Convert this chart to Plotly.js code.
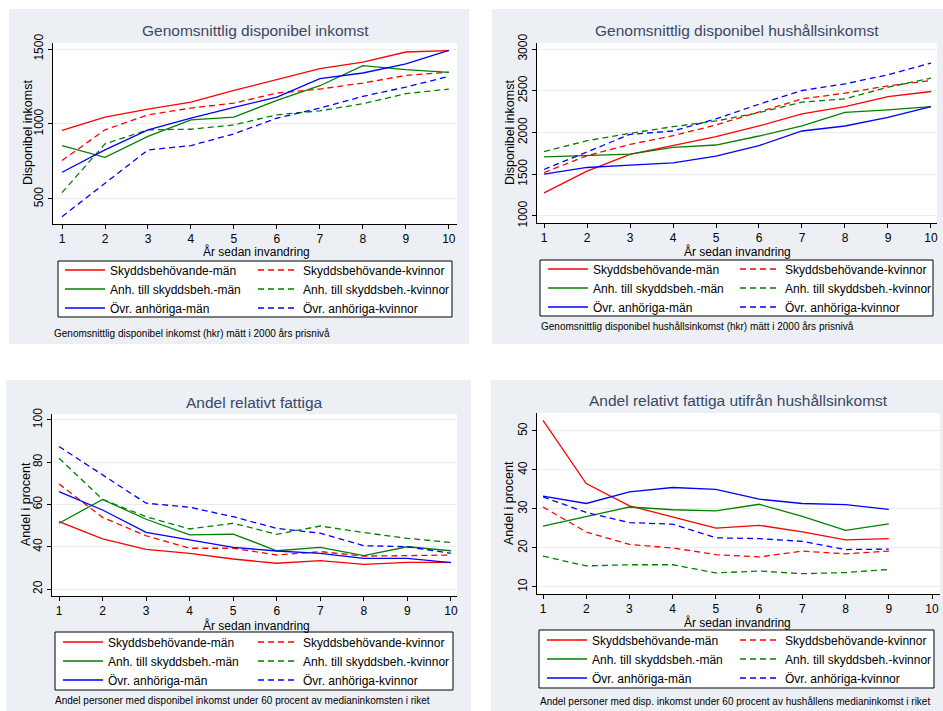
<!DOCTYPE html>
<html>
<head>
<meta charset="utf-8">
<script src="https://cdn.plot.ly/plotly-3.0.1.min.js"></script>
<style>html,body{margin:0;padding:0;background:#fff;}#chart{width:943px;height:711px;}</style>
</head>
<body>
<div id="chart"></div>
<script>
// ---------- data ----------
const years = [1, 2, 3, 4, 5, 6, 7, 8, 9, 10];
const years9 = [1, 2, 3, 4, 5, 6, 7, 8, 9];

const seriesNames = [
  "Skyddsbehövande-män", "Skyddsbehövande-kvinnor",
  "Anh. till skyddsbeh.-män", "Anh. till skyddsbeh.-kvinnor",
  "Övr. anhöriga-män", "Övr. anhöriga-kvinnor"
];

// Panel 1: Genomsnittlig disponibel inkomst
const inkSkyddMan = [957, 1046, 1099, 1146, 1224, 1295, 1369, 1413, 1480, 1489];
const inkSkyddKv  = [756, 961, 1061, 1106, 1139, 1206, 1233, 1273, 1324, 1346];
const inkAnhMan   = [856, 778, 917, 1028, 1046, 1157, 1255, 1389, 1362, 1344];
const inkAnhKv    = [542, 867, 961, 965, 994, 1061, 1088, 1135, 1202, 1233];
const inkOvrMan   = [678, 827, 961, 1039, 1110, 1179, 1302, 1340, 1400, 1491];
const inkOvrKv    = [382, 605, 827, 856, 934, 1039, 1106, 1184, 1246, 1317];

// Panel 2: Genomsnittlig disponibel hushållsinkomst
const hushSkyddMan = [1277, 1537, 1737, 1842, 1950, 2078, 2222, 2311, 2431, 2491];
const hushSkyddKv  = [1521, 1721, 1858, 1962, 2090, 2251, 2403, 2471, 2559, 2623];
const hushAnhMan   = [1709, 1729, 1741, 1822, 1850, 1958, 2078, 2242, 2271, 2311];
const hushAnhKv    = [1770, 1902, 1990, 2070, 2138, 2238, 2363, 2403, 2543, 2651];
const hushOvrMan   = [1501, 1581, 1609, 1637, 1717, 1842, 2018, 2078, 2182, 2311];
const hushOvrKv    = [1557, 1770, 1978, 2018, 2162, 2339, 2503, 2583, 2691, 2832];

// Panel 3: Andel relativt fattiga
const fatSkyddMan = [51.9, 43.7, 38.8, 36.9, 34.2, 32.2, 33.4, 31.7, 32.6, 32.6];
const fatSkyddKv  = [69.7, 53.9, 45.2, 39.3, 39.3, 36.1, 37.7, 35.6, 35.8, 36.1];
const fatAnhMan   = [51.1, 62.4, 53.0, 45.6, 46.0, 38.1, 39.7, 35.8, 40.0, 38.1];
const fatAnhKv    = [81.9, 62.4, 54.2, 48.4, 51.1, 45.9, 49.8, 46.7, 44.0, 42.0];
const fatOvrMan   = [66.1, 57.4, 46.8, 43.2, 39.7, 38.0, 36.9, 34.5, 34.5, 32.5];
const fatOvrKv    = [87.4, 74.0, 60.6, 58.7, 54.2, 48.7, 46.4, 40.5, 40.0, 36.9];

// Panel 4: Andel relativt fattiga utifrån hushållsinkomst
const hfSkyddMan = [52.7, 36.5, 30.8, 28.0, 25.1, 25.8, 24.1, 22.1, 22.4];
const hfSkyddKv  = [30.5, 24.1, 20.9, 20.0, 18.3, 17.7, 19.2, 18.5, 19.2];
const hfAnhMan   = [25.6, 28.0, 30.5, 29.8, 29.5, 31.2, 28.1, 24.5, 26.2];
const hfAnhKv    = [17.9, 15.4, 15.7, 15.7, 13.6, 14.1, 13.4, 13.7, 14.5];
const hfOvrMan   = [33.3, 31.4, 34.4, 35.5, 35.0, 32.5, 31.4, 31.1, 29.9];
const hfOvrKv    = [33.1, 29.1, 26.5, 26.1, 22.6, 22.4, 21.7, 19.6, 19.7];

const panelTitles = [
  "Genomsnittlig disponibel inkomst",
  "Genomsnittlig disponibel hushållsinkomst",
  "Andel relativt fattiga",
  "Andel relativt fattiga utifrån hushållsinkomst"
];
const yTitles = ["Disponibel inkomst", "Disponibel inkomst", "Andel i procent", "Andel i procent"];
const xTitle = "År sedan invandring";
const notes = [
  "Genomsnittlig disponibel inkomst (hkr) mätt i 2000 års prisnivå",
  "Genomsnittlig disponibel hushållsinkomst (hkr) mätt i 2000 års prisnivå",
  "Andel personer med disponibel inkomst under 60 procent av medianinkomsten i riket",
  "Andel personer med disp. inkomst under 60 procent av hushållens medianinkomst i riket"
];
const yTicks = [[500, 1000, 1500], [1000, 1500, 2000, 2500, 3000], [20, 40, 60, 80, 100], [10, 20, 30, 40, 50]];

// ---------- layout helpers ----------
const W = 943, H = 711;
const px = v => v / W;
const py = v => 1 - v / H;

const FONT = "Liberation Sans, Arial, Helvetica, sans-serif";
const colors = ["#ff0000", "#ff0000", "#008000", "#008000", "#0000ff", "#0000ff"];
const dashes = ["solid", "6px,4px", "solid", "6px,4px", "solid", "6px,4px"];

const panels = [
  {x: years,  data: [inkSkyddMan, inkSkyddKv, inkAnhMan, inkAnhKv, inkOvrMan, inkOvrKv],
   box: {l: 53, r: 457, t: 43, b: 224}, xr: [0.79, 10.19], yr: [333, 1540],
   leg: {l: 60, r: 253, top: 255.5}, lbox: [58, 452, 261, 317], note: [52, 333], titleY: 30,
   xt: [256, 251], yt: [28, 133]},
  {x: years,  data: [hushSkyddMan, hushSkyddKv, hushAnhMan, hushAnhKv, hushOvrMan, hushOvrKv],
   box: {l: 537, r: 937, t: 43, b: 223}, xr: [0.837, 10.14], yr: [916, 3072],
   leg: {l: 543, r: 735, top: 254.5}, lbox: [540, 933, 260, 316], note: [539, 326], titleY: 30,
   xt: [737, 251], yt: [510, 133]},
  {x: years,  data: [fatSkyddMan, fatSkyddKv, fatAnhMan, fatAnhKv, fatOvrMan, fatOvrKv],
   box: {l: 52, r: 457, t: 414, b: 596}, xr: [0.839, 10.14], yr: [16.7, 102.8],
   leg: {l: 58, r: 253, top: 627.5}, lbox: [55, 453, 632, 690], note: [53, 700], titleY: 402,
   xt: [256, 625], yt: [26, 504]},
  {x: years9, data: [hfSkyddMan, hfSkyddKv, hfAnhMan, hfAnhKv, hfOvrMan, hfOvrKv],
   box: {l: 537, r: 940, t: 413, b: 594}, xr: [0.861, 10.185], yr: [8.2, 54.6],
   leg: {l: 542, r: 735, top: 625.5}, lbox: [539, 934, 630, 688], note: [538, 701], titleY: 400,
   xt: [737, 622], yt: [509, 503]}
];

const traces = [];
const layout = {
  width: W, height: H,
  margin: {l: 0, r: 0, t: 0, b: 0},
  paper_bgcolor: "#ecf0f5",
  plot_bgcolor: "#ffffff",
  font: {family: FONT, size: 11, color: "#000"},
  showlegend: true,
  shapes: [], annotations: []
};

// white gaps between the four light panels
const gaps = [
  [0, 943, 0, 9], [0, 9, 0, 344], [0, 6, 380, 711],
  [469, 492, 0, 344], [471, 491, 380, 711], [0, 943, 344, 380]
];
gaps.forEach(g => layout.shapes.push({
  type: "rect", xref: "paper", yref: "paper", layer: "below",
  x0: px(g[0]), x1: px(g[1]), y0: py(g[3]), y1: py(g[2]),
  fillcolor: "#ffffff", line: {width: 0}
}));

panels.forEach((p, i) => {
  const n = i + 1;
  const xa = n === 1 ? "x" : "x" + n;
  const ya = n === 1 ? "y" : "y" + n;
  const legL = "legend" + (2 * i === 0 ? "" : 2 * i + 1);
  const legR = "legend" + (2 * i + 2);

  p.data.forEach((vals, k) => {
    traces.push({
      type: "scatter", mode: "lines",
      x: p.x, y: vals, name: seriesNames[k],
      xaxis: xa, yaxis: ya,
      legend: k % 2 === 0 ? legL : legR,
      line: {color: colors[k], width: 1.3, dash: dashes[k]},
      hoverinfo: "x+y+name"
    });
  });

  const axKeyX = n === 1 ? "xaxis" : "xaxis" + n;
  const axKeyY = n === 1 ? "yaxis" : "yaxis" + n;
  layout[axKeyX] = {
    domain: [px(p.box.l), px(p.box.r)], anchor: ya,
    range: p.xr, tickmode: "array", tickvals: years, ticktext: years.map(String),
    showline: true, linecolor: "#000", linewidth: 1, mirror: false,
    ticks: "outside", ticklen: 4, tickcolor: "#000", showgrid: false, zeroline: false,
    tickfont: {size: 12, family: FONT}
  };
  layout[axKeyY] = {
    domain: [py(p.box.b), py(p.box.t)], anchor: xa,
    range: p.yr, tickmode: "array", tickvals: yTicks[i], ticktext: yTicks[i].map(String),
    tickangle: -90,
    showline: true, linecolor: "#000", linewidth: 1, mirror: false,
    ticks: "outside", ticklen: 4, tickcolor: "#000",
    showgrid: true, gridcolor: "#ececec", gridwidth: 1, zeroline: false,
    tickfont: {size: 12, family: FONT}
  };

  // axis titles
  layout.annotations.push({
    text: xTitle, xref: "paper", yref: "paper",
    x: px(p.xt[0]), y: py(p.xt[1]), xanchor: "center", yanchor: "middle",
    showarrow: false, font: {size: 12, family: FONT, color: "#000"}
  });
  layout.annotations.push({
    text: yTitles[i], xref: "paper", yref: "paper", textangle: -90,
    x: px(p.yt[0]), y: py(p.yt[1]), xanchor: "center", yanchor: "middle",
    showarrow: false, font: {size: 12.5, family: FONT, color: "#000"}
  });

  // legends: two columns
  layout[legL] = {
    x: px(p.leg.l), y: py(p.leg.top), xanchor: "left", yanchor: "top",
    xref: "paper", yref: "paper", orientation: "v",
    bgcolor: "rgba(0,0,0,0)", borderwidth: 0, itemwidth: 40,
    font: {size: 12, family: FONT, color: "#000"}
  };
  layout[legR] = Object.assign({}, layout[legL], {x: px(p.leg.r)});

  // legend frame
  layout.shapes.push({
    type: "rect", xref: "paper", yref: "paper", layer: "below",
    x0: px(p.lbox[0]), x1: px(p.lbox[1]), y0: py(p.lbox[3]), y1: py(p.lbox[2]),
    fillcolor: "#ffffff", line: {color: "#000", width: 1}
  });

  // panel title
  layout.annotations.push({
    text: panelTitles[i], xref: "paper", yref: "paper",
    x: px((p.box.l + p.box.r) / 2), y: py(p.titleY), xanchor: "center", yanchor: "middle",
    showarrow: false, font: {size: 15.5, family: FONT, color: "#3b4766"}
  });
  // note
  layout.annotations.push({
    text: notes[i], xref: "paper", yref: "paper",
    x: px(p.note[0]), y: py(p.note[1]), xanchor: "left", yanchor: "middle",
    showarrow: false, font: {size: 10, family: FONT, color: "#000"}
  });
});

Plotly.newPlot("chart", traces, layout, {displayModeBar: false, staticPlot: true});
</script>
</body>
</html>
